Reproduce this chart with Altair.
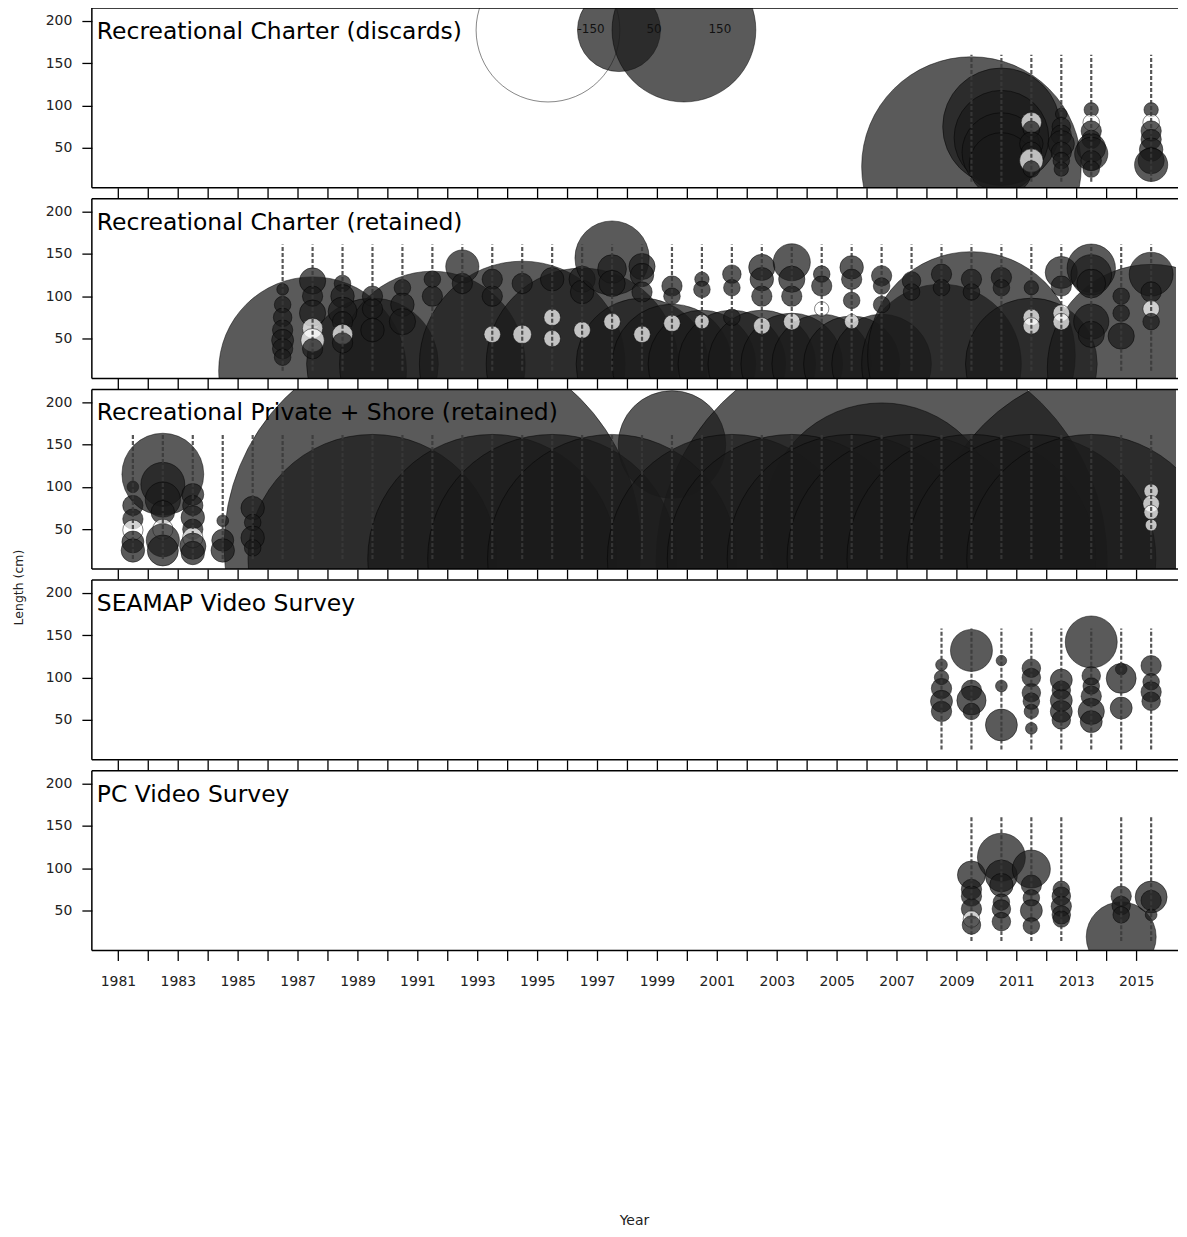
import altair as alt
import pandas as pd
import numpy as np

FONT = "DejaVu Sans"

panel_names = [
    "Recreational Charter (discards)",
    "Recreational Charter (retained)",
    "Recreational Private + Shore (retained)",
    "SEAMAP Video Survey",
    "PC Video Survey",
]

# ---------------- bubble data (year, length bin, Pearson residual) ----------------
year_p1 = [2009, 2010, 2010, 2010, 2010,
           2011, 2011, 2011, 2011, 2011, 2011,
           2012, 2012, 2012, 2012, 2012, 2012, 2012,
           2013, 2013, 2013, 2013, 2013, 2013, 2013, 2013,
           2015, 2015, 2015, 2015, 2015, 2015, 2015]
len_p1 = [28, 75, 62, 45, 30,
          80, 72, 55, 45, 35, 25,
          90, 75, 65, 55, 45, 35, 25,
          95, 80, 70, 60, 50, 43, 35, 25,
          95, 80, 70, 60, 48, 35, 30]
res_p1 = [350, 100, 65, 45, 30,
          -3, 2, 4, 3, -4, 2,
          1, 2.5, 3, 5, 3, 2, 1.5,
          1.5, -2, 3, 2.5, 6, 8, 3, 2,
          1.5, -2, 3, 3, 4, 5, 8]

year_p2 = [1987, 1989, 1991, 1994, 1996, 1998, 1999, 2000, 2001, 2002, 2003, 2004,
           2005, 2006, 2008, 2009, 2011, 2015,
           1986, 1986, 1986, 1986, 1986, 1986, 1986,
           1987, 1987, 1987, 1987, 1987, 1987,
           1988, 1988, 1988, 1988, 1988, 1988,
           1989, 1989, 1989,
           1990, 1990, 1990,
           1991, 1991,
           1992, 1992,
           1993, 1993, 1993,
           1994, 1994,
           1995, 1995, 1995,
           1996, 1996, 1996,
           1997, 1997, 1997, 1997,
           1998, 1998, 1998, 1998,
           1999, 1999, 1999,
           2000, 2000, 2000,
           2001, 2001, 2001,
           2002, 2002, 2002, 2002,
           2003, 2003, 2003, 2003,
           2004, 2004, 2004,
           2005, 2005, 2005, 2005,
           2006, 2006, 2006,
           2007, 2007,
           2008, 2008,
           2009, 2009,
           2010, 2010,
           2011, 2011, 2011,
           2012, 2012, 2012, 2012,
           2013, 2013, 2013, 2013, 2013,
           2014, 2014, 2014,
           2015, 2015, 2015, 2015]
len_p2 = [12, 20, 20, 20, 20, 20, 20, 20, 20, 20, 20, 20,
          20, 20, 20, 30, 20, 15,
          108, 90, 75, 60, 48, 38, 28,
          118, 100, 80, 62, 48, 38,
          115, 100, 82, 70, 55, 45,
          100, 85, 60,
          110, 90, 70,
          120, 100,
          135, 115,
          120, 100, 55,
          115, 55,
          120, 75, 50,
          120, 105, 60,
          145, 132, 115, 70,
          135, 125, 105, 55,
          112, 100, 68,
          120, 108, 70,
          126, 110, 75,
          134, 120, 100, 65,
          140, 120, 100, 70,
          126, 112, 85,
          134, 120, 95, 70,
          124, 112, 90,
          118, 105,
          126, 110,
          120, 105,
          122, 110,
          110, 75, 65,
          128, 112, 80, 70,
          133, 125, 115, 70, 55,
          100, 80, 53,
          126, 105, 85, 70]
res_p2 = [256, 126, 250, 307, 267, 126, 104, 84, 84, 84, 75, 72,
          67, 72, 185, 313, 126, 313,
          1, 2, 2.5, 3, 3.5, 3, 2,
          5, 3, 5, -3, -4, 3,
          2, 4, 6, 3, -3, 3,
          3, 3, 4,
          2, 4, 5,
          2, 3,
          8, 3,
          3, 3, -2,
          3, -2.5,
          4, -2, -2,
          5, 4, -2,
          40, 6, 5, -2,
          5, 4, 3, -2,
          3, 2, -2,
          1.5, 2, -1.5,
          2.5, 2, 2,
          5, 4, 3, -2,
          10, 5, 3, -2,
          2, 3, -1.5,
          4, 3, 2, -1.5,
          3, 2, 2,
          2.5, 2,
          3, 2,
          3, 2,
          3, 2,
          1.5, -2, -2,
          7.5, 3, -2, -2,
          17, 12, 6, 9, 5,
          2, 2, 5,
          14, 3, -2, 2]

year_p3 = [1991, 1999, 2006, 2014, 2006,
           1989, 1993, 1995, 1997, 2001, 2003, 2005, 2007, 2009, 2011, 2013,
           1981, 1981, 1981, 1981, 1981, 1981,
           1982, 1982, 1982, 1982, 1982, 1982, 1982,
           1983, 1983, 1983, 1983, 1983, 1983, 1983,
           1984, 1984, 1984,
           1985, 1985, 1985, 1985,
           2015, 2015, 2015, 2015]
len_p3 = [31, 150, 11, 11, 60,
          15, 15, 15, 15, 15, 15, 15, 15, 15, 15, 15,
          100, 78, 62, 49, 35, 25,
          115, 103, 85, 70, 50, 37, 25,
          91, 78, 64, 50, 40, 30, 22,
          60, 37, 25,
          75, 58, 40, 28,
          95, 80, 70, 55]
res_p3 = [1260, 84, 1478, 1100, 403,
          450, 450, 450, 450, 450, 450, 450, 450, 450, 450, 450,
          1, 3, 3, -3, 3.5, 4,
          48.6, 14, 9, 4, -3, 8, 7,
          3.5, 3, 4, 3, -3, 5, 4,
          1, 3.5, 4,
          4, 2, 4, 2,
          -1.5, -2, -1.5, -1]

year_p4 = [2008, 2008, 2008, 2008, 2008,
           2009, 2009, 2009, 2009,
           2010, 2010, 2010,
           2011, 2011, 2011, 2011, 2011, 2011,
           2012, 2012, 2012, 2012, 2012,
           2013, 2013, 2013, 2013, 2013, 2013,
           2014, 2014, 2014,
           2015, 2015, 2015, 2015]
len_p4 = [115, 100, 87, 72, 60,
          132, 85, 73, 60,
          120, 90, 44,
          111, 100, 82, 72, 60, 40,
          97, 85, 73, 60, 50,
          142, 102, 90, 78, 60, 48,
          110, 99, 64,
          114, 95, 83, 72]
res_p4 = [1, 1.5, 3, 3.5, 3,
          12.8, 3, 6.2, 2,
          0.8, 1, 7.4,
          2.5, 2.5, 2.5, 2, 1.5, 1,
          3.5, 2.5, 3.5, 3.5, 2.5,
          19.6, 2.5, 2, 3, 5, 3.5,
          1, 6.5, 3.5,
          3, 2, 3, 2.5]

year_p5 = [2009, 2009, 2009, 2009, 2009, 2009,
           2010, 2010, 2010, 2010, 2010, 2010,
           2011, 2011, 2011, 2011, 2011,
           2012, 2012, 2012, 2012, 2012,
           2014, 2014, 2014, 2014,
           2015, 2015, 2015]
len_p5 = [92, 75, 67, 52, 40, 33,
          113, 91, 80, 60, 52, 37,
          99, 80, 65, 50, 32,
          75, 67, 55, 45, 40,
          19, 67, 56, 45,
          66, 62, 45]
res_p5 = [5.7, 3, 3, 3, -2, 2.5,
          16.7, 7.4, 4, 2, 2.5, 2.5,
          10.5, 3, 2, 3.5, 2,
          2, 2.5, 3, 2.5, 2,
          35.5, 3, 2.5, 2,
          7.4, 3, 1]

# years with length compositions (vertical bubble columns)
col_years_p1 = [2009, 2010, 2011, 2012, 2013, 2015]
col_years_p2 = [1986, 1987, 1988, 1989, 1990, 1991, 1992, 1993, 1994, 1995, 1996, 1997,
                1998, 1999, 2000, 2001, 2002, 2003, 2004, 2005, 2006, 2007, 2008, 2009,
                2010, 2011, 2012, 2013, 2014, 2015]
col_years_p3 = [1981, 1982, 1983, 1984, 1985, 1986, 1987, 1988, 1989, 1990, 1991, 1992,
                1993, 1994, 1995, 1996, 1997, 1998, 1999, 2000, 2001, 2002, 2003, 2004,
                2005, 2006, 2007, 2008, 2009, 2010, 2011, 2012, 2013, 2014, 2015]
col_years_p4 = [2008, 2009, 2010, 2011, 2012, 2013, 2014, 2015]
col_years_p5 = [2009, 2010, 2011, 2012, 2014, 2015]
col_lo = [10, 12, 15, 15, 14]
col_hi = [160, 161, 163, 158, 160]

legend_vals = [-150, 50, 150]
legend_labels = ["-150", "50", "150"]
legend_circle_x = [1995.36, 1997.73, 1999.9]
legend_text_x = [1996.8, 1998.9, 2001.1]
legend_len = 189

tick_years = list(range(1981, 2016))
len_ticks = [50, 100, 150, 200]

# ---------------- helpers ----------------
X_DOMAIN = [1980.13, 2016.33]
Y_DOMAIN = [3, 215]
W, H = 1086, 180

x_scale = alt.Scale(domain=X_DOMAIN, nice=False, zero=False)
y_scale = alt.Scale(domain=Y_DOMAIN, nice=False, zero=False)
# Vega symbol size is the bounding-box area (4 r^2); radius of |150| is ~72 px
size_scale = alt.Scale(type="linear", domain=[0, 150], range=[0, 20736], zero=True)
fill_scale = alt.Scale(domain=["neg", "pos"], range=["#ffffff", "#1a1a1a"])


def bubbles_df(years, lens, res, shift=0.5):
    df = pd.DataFrame({"year": years, "length": lens, "resid": res})
    df["x"] = df["year"] + shift
    df["absr"] = df["resid"].abs()
    df["sign"] = np.where(df["resid"] < 0, "neg", "pos")
    return df


def x_axis(bottom):
    common = dict(values=tick_years, tickSize=10, tickColor="black", tickWidth=1.3,
                  domain=False, grid=False)
    if bottom:
        return alt.Axis(format="d", labelExpr="datum.value % 2 == 1 ? datum.label : ''",
                        labelFont=FONT, labelFontSize=14, labelColor="#222",
                        labelPadding=14, labelOverlap=False, labelFlush=False,
                        title="Year", titleFont=FONT, titleFontSize=14,
                        titleFontWeight="normal", titleColor="#222", titleY=271,
                        titleBaseline="middle", **common)
    return alt.Axis(labels=False, title=None, **common)


def y_axis(with_title):
    common = dict(values=len_ticks, tickSize=10, tickColor="black", tickWidth=1.3,
                  domain=False, grid=False, labelFont=FONT, labelFontSize=14,
                  labelColor="#222", labelPadding=10)
    if with_title:
        return alt.Axis(title="Length (cm)", titleFont=FONT, titleFontSize=12.5,
                        titleFontWeight="normal", titleColor="#222", titleAngle=270,
                        titleX=-73, titleY=7, titleAlign="center",
                        titleBaseline="middle", **common)
    return alt.Axis(title=None, **common)


def bubble_layer(df, xa, ya):
    return alt.Chart(df).mark_circle(
        clip=True, stroke="black", strokeWidth=0.8, fillOpacity=0.72, strokeOpacity=0.6
    ).encode(
        x=alt.X("x:Q", scale=x_scale, axis=xa),
        y=alt.Y("length:Q", scale=y_scale, axis=ya),
        size=alt.Size("absr:Q", scale=size_scale, legend=None),
        fill=alt.Fill("sign:N", scale=fill_scale, legend=None),
    )


def frame_layers():
    d = pd.DataFrame({"k": [0]})
    base = alt.Chart(d).mark_rule(color="black", strokeWidth=1.5)
    return [
        base.encode(x=alt.value(0), x2=alt.value(W + 2), y=alt.value(0)),
        base.encode(x=alt.value(0), x2=alt.value(W + 2), y=alt.value(H)),
        base.encode(x=alt.value(0), y=alt.value(0), y2=alt.value(H)),
    ]


data_sets = [
    (year_p1, len_p1, res_p1, col_years_p1),
    (year_p2, len_p2, res_p2, col_years_p2),
    (year_p3, len_p3, res_p3, col_years_p3),
    (year_p4, len_p4, res_p4, col_years_p4),
    (year_p5, len_p5, res_p5, col_years_p5),
]

panels = []
for i, (yrs, lens, res, cyears) in enumerate(data_sets):
    xa = x_axis(i == 4)
    ya = y_axis(i == 3)
    layers = [bubble_layer(bubbles_df(yrs, lens, res), xa, ya)]

    cols = pd.DataFrame({"year": cyears})
    cols["x"] = cols["year"] + 0.5
    cols["lo"] = col_lo[i]
    cols["hi"] = col_hi[i]
    layers.append(
        alt.Chart(cols).mark_rule(clip=True, color="#3a3a3a", strokeWidth=2.2,
                                  strokeDash=[4, 2], opacity=0.85).encode(
            x=alt.X("x:Q", scale=x_scale, axis=xa),
            y=alt.Y("lo:Q", scale=y_scale, axis=ya),
            y2="hi:Q",
        )
    )

    if i == 0:
        leg = pd.DataFrame({"x": legend_circle_x, "length": legend_len,
                            "resid": legend_vals})
        leg["absr"] = leg["resid"].abs()
        leg["sign"] = np.where(leg["resid"] < 0, "neg", "pos")
        layers.append(bubble_layer(leg, xa, ya))
        legt = pd.DataFrame({"x": legend_text_x, "length": legend_len + 1,
                             "label": legend_labels})
        layers.append(
            alt.Chart(legt).mark_text(font=FONT, fontSize=12, color="#111",
                                      align="center", baseline="middle").encode(
                x=alt.X("x:Q", scale=x_scale, axis=xa),
                y=alt.Y("length:Q", scale=y_scale, axis=ya),
                text="label:N",
            )
        )

    lab = pd.DataFrame({"label": [panel_names[i]]})
    layers.append(
        alt.Chart(lab).mark_text(font=FONT, fontSize=23.5, color="black", align="left",
                                 baseline="alphabetic").encode(
            x=alt.value(5), y=alt.value(31), text="label:N"
        )
    )
    layers.extend(frame_layers())
    panels.append(alt.layer(*layers).properties(width=W, height=H))

chart = alt.vconcat(*panels, spacing=11, bounds="flush").properties(
    padding={"left": 4, "top": -2, "right": 0, "bottom": 0},
    background="white",
).configure_view(stroke="transparent", strokeWidth=0)

chart.save("out.html", embed_options={"renderer": "svg", "actions": False})
